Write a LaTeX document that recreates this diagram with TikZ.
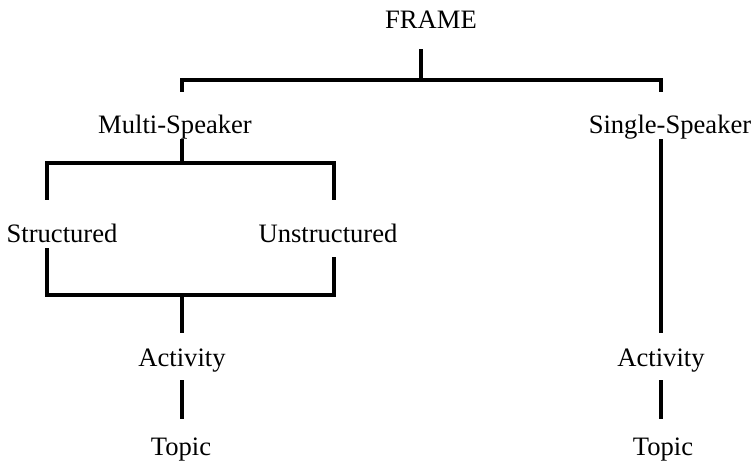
\documentclass[tikz,border=0pt]{standalone}
\usepackage{fontspec}
\setmainfont{Liberation Serif}
\usepackage{tikz}
\usetikzlibrary{positioning,calc}

\begin{document}
\begin{tikzpicture}[x=0.5pt, y=-0.5pt, term/.style = {anchor=base, inner sep=0pt, text height=9.5pt, text depth=3pt, font=\fontsize{13.3pt}{16pt}\selectfont}, link/.style = {line width=1.7pt}]

\useasboundingbox (0,0) rectangle (756,463);

\node[term] (frame) at (431,28) {FRAME};
\node[term] (multi) at (175,133) {Multi-Speaker};
\node[term] (single) at (670,133) {Single-Speaker};
\node[term] (struct) at (62,242) {Structured};
\node[term] (unstruct) at (328,242) {Unstructured};
\node[term] (act1) at (182,366) {Activity};
\node[term] (act2) at (661,366) {Activity};
\node[term] (topic1) at (181,455) {Topic};
\node[term] (topic2) at (663,455) {Topic};

% bar ends
\coordinate (fork) at (421,80);
\coordinate (msplit) at (182,163);
\coordinate (sl) at (47,163);
\coordinate (sr) at (334,163);
\coordinate (mjoin) at (182,295);
\coordinate (jl) at (47,295);
\coordinate (jr) at (334,295);

\draw[link, shorten <=7.5pt] (frame.south -| fork) -- (fork);
\draw[link] ([yshift=11pt]multi.north -| msplit) |- (fork) -| ([yshift=11pt]single.north -| act2);

% multi-speaker side
\draw[link] (multi.south -| msplit) -- (msplit);
\draw[link] ([yshift=11.5pt]struct.north -| sl) -- (sl) -- (sr) -- ([yshift=11.5pt]unstruct.north -| sr);
\draw[link] (struct.south -| jl) -- (jl) -- (jr) -- ([yshift=-4.5pt]unstruct.south -| jr);
\draw[link] (mjoin) -- ([yshift=7pt]act1.north);
\draw[link, shorten <=4pt, shorten >=8.5pt] (act1.south) -- (act1.south |- topic1.north);

% single-speaker side
\draw[link] (single.south -| act2) -- ([yshift=7pt]act2.north);
\draw[link, shorten <=4pt, shorten >=8.5pt] (act2.south) -- (act2.south |- topic2.north);
\end{tikzpicture}
\end{document}
